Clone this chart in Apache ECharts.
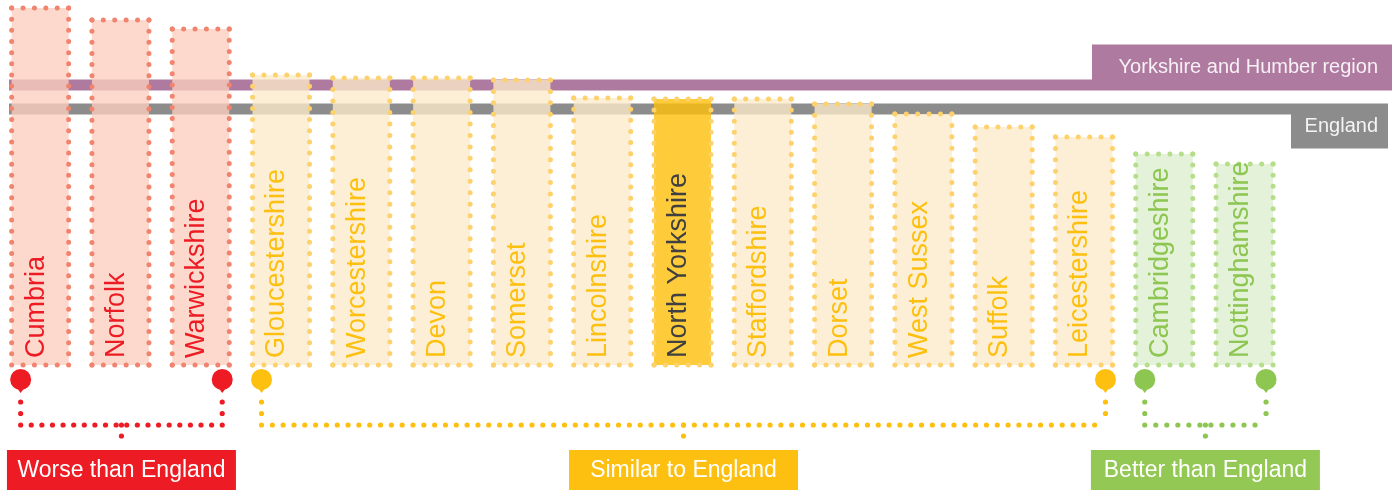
<!DOCTYPE html>
<html>
<head>
<meta charset="utf-8">
<script src="https://cdn.jsdelivr.net/npm/echarts@6/dist/echarts.min.js"></script>
<style>
  html, body { margin: 0; padding: 0; background: #ffffff; }
  #chart { width: 1399px; height: 490px; }
</style>
</head>
<body>
<div id="chart"></div>
<script>
// Local authorities, ordered from worst to best
const categories = ['Cumbria', 'Norfolk', 'Warwickshire', 'Gloucestershire', 'Worcestershire', 'Devon',
  'Somerset', 'Lincolnshire', 'North Yorkshire', 'Staffordshire', 'Dorset', 'West Sussex', 'Suffolk',
  'Leicestershire', 'Cambridgeshire', 'Nottinghamshire'];
const values = [35.7, 34.5, 33.6, 29.0, 28.7, 28.7, 28.5, 26.7, 26.6, 26.6, 26.1, 25.1, 23.8, 22.8, 21.1, 20.1];
const comparison = ['worse', 'worse', 'worse', 'similar', 'similar', 'similar', 'similar', 'similar',
  'similar', 'similar', 'similar', 'similar', 'similar', 'similar', 'better', 'better'];
const highlighted = 'North Yorkshire';

// Reference levels
const regionLabel = 'Yorkshire and Humber region';
const regionValue = 28.0;
const englandLabel = 'England';
const englandValue = 25.6;

// Comparison groups
const groupKeys = ['worse', 'similar', 'better'];
const groupLabels = ['Worse than England', 'Similar to England', 'Better than England'];

const FONT = '"Liberation Sans", Arial, Helvetica, sans-serif';
const palette = {
  worse:   { fill: 'rgba(251,206,190,0.78)', dots: '#f2836f', text: '#ed1c24', solid: '#ed1c24', box: '#ed1c24' },
  similar: { fill: 'rgba(253,235,201,0.78)', dots: '#fdd16b', text: '#fdc010', solid: '#fdc010', box: '#fdc010' },
  better:  { fill: 'rgba(222,238,208,0.78)', dots: '#b5de8a', text: '#8dc651', solid: '#8dc651', box: '#92c853' }
};
const highlightStyle = { fill: 'rgba(254,191,14,0.81)', text: '#404040' };
const BAR_W = 57;
const DOT = 5;
const DOT_STEP = 11.3;

// A dotted segment whose dots land exactly on both ends
function dottedSeg(x1, y1, x2, y2, color, step, width) {
  const len = Math.hypot(x2 - x1, y2 - y1);
  const n = Math.max(1, Math.round(len / step));
  return {
    type: 'line',
    shape: { x1, y1, x2, y2 },
    style: { stroke: color, lineWidth: width, lineDash: [0, len / n], lineCap: 'round', fill: null }
  };
}

function renderBar(params, api) {
  const i = api.value(0);
  const v = api.value(1);
  const top = api.coord([i, v]);
  const base = api.coord([i, 0]);
  const cx = top[0];
  const x0 = cx - BAR_W / 2, x1 = cx + BAR_W / 2;
  const y0 = top[1], y1 = base[1];
  const p = palette[comparison[i]];
  const isHi = categories[i] === highlighted;
  return {
    type: 'group',
    children: [
      { type: 'rect', shape: { x: x0, y: y0, width: BAR_W, height: y1 - y0 },
        style: { fill: isHi ? highlightStyle.fill : p.fill } },
      dottedSeg(x0, y0, x1, y0, p.dots, DOT_STEP, DOT),
      dottedSeg(x1, y0, x1, y1, p.dots, DOT_STEP, DOT),
      dottedSeg(x0, y1, x1, y1, p.dots, DOT_STEP, DOT),
      dottedSeg(x0, y0, x0, y1, p.dots, DOT_STEP, DOT),
      { type: 'text', x: cx - 4, y: y1 - 7, rotation: Math.PI / 2,
        style: { text: categories[i], fill: isHi ? highlightStyle.text : p.text,
          font: '27px ' + FONT, textAlign: 'left', textVerticalAlign: 'middle' } }
    ]
  };
}

const chart = echarts.init(document.getElementById('chart'), null, { renderer: 'canvas' });

chart.setOption({
  animation: false,
  grid: { left: -1.7, width: 1286.4, top: 0, bottom: 125, containLabel: false },
  xAxis: { type: 'category', data: categories, show: false },
  yAxis: { type: 'value', min: 0, max: 36.5, show: false },
  series: [{
    type: 'custom',
    z: 10,
    renderItem: renderBar,
    encode: { x: 0, y: 1 },
    data: values.map((v, i) => [i, v]),
    emphasis: { disabled: true },
    silent: true
  }]
});

function px(i) { return chart.convertToPixel({ xAxisIndex: 0 }, i); }
function py(v) { return chart.convertToPixel({ yAxisIndex: 0 }, v); }

const elements = [];
const baseY = py(0);
const lineStartX = 9;

// Region reference band and its tag
const regionY = py(regionValue);
const regionBoxX = 1092;
elements.push({ type: 'line', z: 1, shape: { x1: lineStartX, y1: regionY, x2: regionBoxX, y2: regionY },
  style: { stroke: '#af7aa0', lineWidth: 11 } });
elements.push({ type: 'rect', z: 1, shape: { x: regionBoxX, y: regionY + 5.5 - 46, width: 300, height: 46 },
  style: { fill: '#af7aa0' } });
elements.push({ type: 'text', z: 2, style: { text: regionLabel, x: 1378, y: regionY + 5.5 - 23,
  fill: '#f7f0f5', font: '20px ' + FONT, textAlign: 'right', textVerticalAlign: 'middle' } });

// England reference band and its tag
const englandY = py(englandValue);
const englandBoxX = 1291;
elements.push({ type: 'line', z: 1, shape: { x1: lineStartX, y1: englandY, x2: englandBoxX, y2: englandY },
  style: { stroke: '#8c8c8c', lineWidth: 11 } });
elements.push({ type: 'rect', z: 1, shape: { x: englandBoxX, y: englandY - 5.5, width: 97, height: 45 },
  style: { fill: '#8c8c8c' } });
elements.push({ type: 'text', z: 2, style: { text: englandLabel, x: 1378, y: englandY - 5.5 + 22.5,
  fill: '#f4f4f4', font: '20px ' + FONT, textAlign: 'right', textVerticalAlign: 'middle' } });

// Group brackets with pins and tags
function pin(x, y, color) {
  elements.push({ type: 'circle', z: 3, shape: { cx: x, cy: y, r: 10.5 }, style: { fill: color } });
  elements.push({ type: 'polygon', z: 3, shape: { points: [[x - 4, y + 8], [x + 4, y + 8], [x, y + 13.5]] },
    style: { fill: color } });
}
function dotted(x1, y1, x2, y2, color, step) {
  elements.push(Object.assign({ z: 3 }, dottedSeg(x1, y1, x2, y2, color, step, 5.2)));
}

groupKeys.forEach((key, gi) => {
  const idx = comparison.map((c, i) => (c === key ? i : -1)).filter(i => i >= 0);
  const first = Math.min(...idx), last = Math.max(...idx);
  const color = palette[key].solid;
  const xL = px(first) - BAR_W / 2 + 9;
  const xR = px(last) + BAR_W / 2 - 7;
  const pinY = baseY + 14.5;
  const railY = baseY + 60;
  pin(xL, pinY, color);
  pin(xR, pinY, color);
  dotted(xL, baseY + 37, xL, railY, color, 11.4);
  dotted(xR, baseY + 37, xR, railY, color, 11.4);
  dotted(xL, railY, xR, railY, color, 10.8);
  const mid = (xL + xR) / 2;
  dotted(mid, railY, mid, railY + 22, color, 11);
  const boxW = 229;
  elements.push({ type: 'rect', z: 3, shape: { x: mid - boxW / 2, y: baseY + 85, width: boxW, height: 42 },
    style: { fill: palette[key].box } });
  elements.push({ type: 'text', z: 4, style: { text: groupLabels[gi], x: mid, y: baseY + 106,
    fill: '#ffffff', font: '23px ' + FONT, textAlign: 'center', textVerticalAlign: 'middle' } });
});

chart.setOption({ graphic: { elements } });
</script>
</body>
</html>
